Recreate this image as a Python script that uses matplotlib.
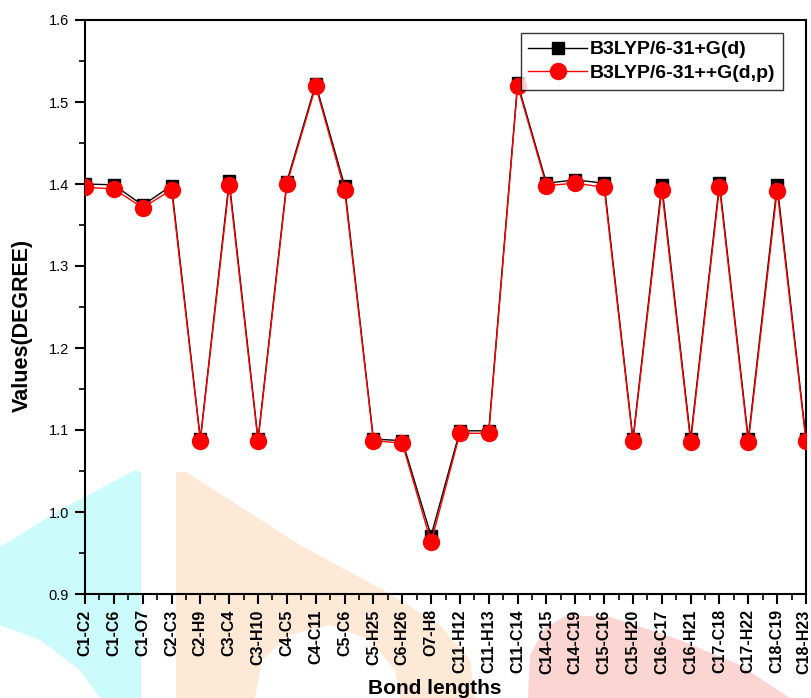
import matplotlib
matplotlib.use("Agg")
import matplotlib.pyplot as plt
from matplotlib.patches import Polygon
from matplotlib.ticker import MultipleLocator, FixedLocator
from matplotlib.transforms import ScaledTranslation

plt.rcParams['font.family'] = ['Liberation Sans', 'DejaVu Sans']

bonds = ["C1-C2", "C1-C6", "C1-O7", "C2-C3", "C2-H9", "C3-C4", "C3-H10", "C4-C5",
         "C4-C11", "C5-C6", "C5-H25", "C6-H26", "O7-H8", "C11-H12", "C11-H13",
         "C11-C14", "C14-C15", "C14-C19", "C15-C16", "C15-H20", "C16-C17",
         "C16-H21", "C17-C18", "C17-H22", "C18-C19", "C18-H23"]
b3lyp_g_d = [1.400, 1.399, 1.374, 1.398, 1.089, 1.404, 1.089, 1.403,
             1.522, 1.398, 1.089, 1.087, 0.971, 1.099, 1.099,
             1.523, 1.401, 1.405, 1.401, 1.089, 1.399,
             1.089, 1.401, 1.089, 1.399, 1.089]
b3lyp_gg_dp = [1.396, 1.394, 1.371, 1.393, 1.087, 1.399, 1.086, 1.400,
               1.519, 1.393, 1.087, 1.084, 0.963, 1.096, 1.096,
               1.520, 1.398, 1.401, 1.396, 1.086, 1.393,
               1.085, 1.396, 1.085, 1.392, 1.086]
series_names = ["B3LYP/6-31+G(d)", "B3LYP/6-31++G(d,p)"]
y_ticks = [0.9, 1.0, 1.1, 1.2, 1.3, 1.4, 1.5, 1.6]

W, H = 811, 698
fig = plt.figure(figsize=(W / 100, H / 100), dpi=100)

# faint background watermark shapes (figure pixel coords)
def px(pts):
    return [(x / W, 1 - y / H) for x, y in pts]

wm = [
    ([(0, 547), (60, 510), (135, 470), (141, 472), (141, 698), (100, 698),
      (80, 670), (40, 640), (0, 625)], "#ccfbfb"),
    ([(176, 472), (186, 472), (300, 545), (383, 590), (440, 625), (470, 660),
      (475, 698), (176, 698)], "#fde9d6"),
    ([(528, 698), (530, 655), (545, 628), (567, 615), (610, 617), (680, 640),
      (740, 665), (790, 698)], "#fbd5d1"),
]
for pts, col in wm:
    fig.patches.append(Polygon(px(pts), closed=True, transform=fig.transFigure,
                               facecolor=col, edgecolor="none", zorder=-10))
fig.patches.append(Polygon(px([(255, 698), (262, 660), (290, 635), (330, 625),
                               (370, 640), (395, 670), (400, 698)]),
                           closed=True, transform=fig.transFigure,
                           facecolor="white", edgecolor="none", zorder=-9))

ax = fig.add_axes([85 / W, 1 - 594 / H, (806 - 85) / W, (594 - 20) / H])
ax.set_facecolor("none")

x = list(range(len(bonds)))
ax.plot(x, b3lyp_g_d, color="black", lw=1.0, marker="s", markersize=9,
        markerfacecolor="black", markeredgecolor="black", label=series_names[0], zorder=3)
ax.plot(x, b3lyp_gg_dp, color="red", lw=1.0, marker="o", markersize=11.5,
        markerfacecolor="red", markeredgecolor="red", label=series_names[1], zorder=4)

ax.set_xlim(0, len(bonds) - 1)
ax.set_ylim(0.9, 1.6)
ax.yaxis.set_minor_locator(MultipleLocator(0.05))
ax.xaxis.set_major_locator(FixedLocator(x))
ax.xaxis.set_minor_locator(FixedLocator([i + 0.5 for i in x[:-1]]))
ax.set_xticklabels(bonds, rotation=90, fontsize=11.5, fontweight="bold")
ax.set_yticks(y_ticks)
ax.set_yticklabels([f"{v:.1f}" for v in y_ticks], fontsize=10.5)

ax.tick_params(axis="both", which="major", direction="out", length=7, width=1.5)
ax.tick_params(axis="both", which="minor", direction="out", length=4, width=1.2)
ax.tick_params(axis="x", which="major", pad=4)
ax.tick_params(axis="y", which="major", pad=4.5)
for s in ax.spines.values():
    s.set_linewidth(1.5)

# nudge last tick label so it stays inside the figure
last = ax.get_xticklabels()[-1]
last.set_transform(last.get_transform() + ScaledTranslation(-2 / 100, 0, fig.dpi_scale_trans))

fig.text(22 / W, 1 - 325 / H, "Values(DEGREE)", fontsize=15.5, fontweight="bold",
         rotation=90, ha="center", va="center")
fig.text(435 / W, 1 - 688 / H, "Bond lengths", fontsize=15, fontweight="bold",
         ha="center", va="center")

leg = ax.legend(loc="upper right", bbox_to_anchor=((783 - 85) / (806 - 85), 1 - 13 / 574),
                prop={"weight": "bold", "size": 14}, frameon=True,
                fancybox=False, edgecolor="black", handlelength=3.0,
                handletextpad=0.15, borderpad=0.4, labelspacing=0.3, borderaxespad=0)
leg.get_frame().set_linewidth(1.0)

fig.savefig("out.png", dpi=100)
